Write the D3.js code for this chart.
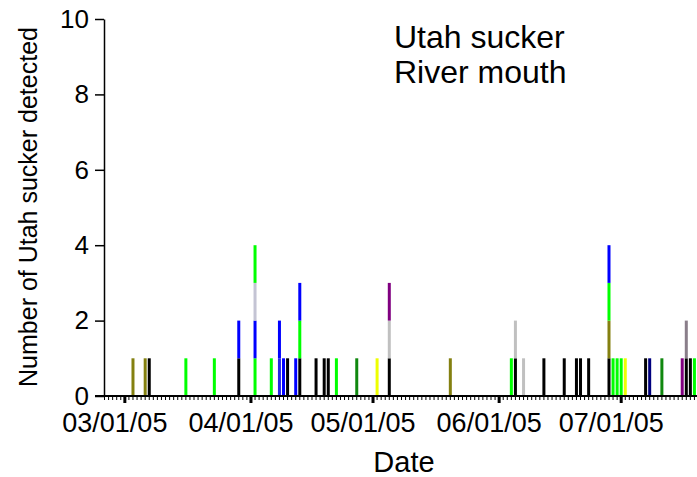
<!DOCTYPE html>
<html>
<head>
<meta charset="utf-8">
<script src="https://cdn.jsdelivr.net/npm/d3@7"></script>
<style>
  body { margin: 0; background: #fff; }
  svg { display: block; }
  text { font-family: "Liberation Sans", Arial, sans-serif; fill: #000; }
</style>
</head>
<body>
<svg id="chart" width="697" height="477"></svg>
<script>
// Detection days (one bar per day)
const detectionDates = [
  "2005-03-03","2005-03-06","2005-03-07","2005-03-16","2005-03-23","2005-03-29",
  "2005-04-02","2005-04-06","2005-04-08","2005-04-09","2005-04-10","2005-04-12",
  "2005-04-13","2005-04-17","2005-04-19","2005-04-20","2005-04-22","2005-04-27",
  "2005-05-02","2005-05-05","2005-05-20","2005-06-04","2005-06-05","2005-06-07",
  "2005-06-12","2005-06-17","2005-06-20","2005-06-21","2005-06-23","2005-06-28",
  "2005-06-29","2005-06-30","2005-07-01","2005-07-02","2005-07-07","2005-07-08",
  "2005-07-11","2005-07-16","2005-07-17","2005-07-18","2005-07-19"
];
// Tagged fish detected on each day, stacked bottom to top (one fish = 1)
const detectionStacks = [
  ["olive"],["olive"],["black"],["lime"],["lime"],["black","blue"],
  ["lime","blue","lavender","lime"],["lime"],["slateBlue","blue"],["blue"],["black"],["blue"],
  ["black","lime","blue"],["black"],["black"],["black"],["lime"],["green"],
  ["yellow"],["black","silver","purple"],["olive"],["lime"],["black","silver"],["silver"],
  ["black"],["black"],["black"],["black"],["black"],["black","olive","lime","blue"],
  ["lime"],["lime"],["lime"],["yellow"],["black"],["navy"],
  ["green"],["purple"],["black","mauve"],["black"],["lime"]
];
const tagColors = {
  olive: "#848010", black: "#000000", lime: "#00ff00", blue: "#0000ff",
  slateBlue: "#2626e6", lavender: "#c4c4d4", green: "#10880f", yellow: "#eeff00",
  silver: "#c0c0c0", purple: "#800080", navy: "#00007f", mauve: "#8a7e8a"
};
const yTickValues = [0, 2, 4, 6, 8, 10];
const monthTickLabels = ["03/01/05", "04/01/05", "05/01/05", "06/01/05", "07/01/05"];

const parseDay = d3.timeParse("%Y-%m-%d");
const parseTick = d3.timeParse("%m/%d/%y");
const svg = d3.select("#chart");

const x = d3.scaleTime()
  .domain([parseDay("2005-02-24"), parseDay("2005-07-20")])
  .range([104, 698]);
const y = d3.scaleLinear().domain([0, 10]).range([396, 19]);

// Stacked segments
const segments = [];
detectionDates.forEach((ds, i) => {
  const date = parseDay(ds);
  detectionStacks[i].forEach((key, j) => {
    segments.push({ date, key, y0: j, y1: j + 1 });
  });
});

svg.append("g").selectAll("rect")
  .data(segments)
  .join("rect")
  .attr("x", d => x(d.date) - 1)
  .attr("width", 3)
  .attr("y", d => y(d.y1))
  .attr("height", d => y(d.y0) - y(d.y1))
  .attr("fill", d => tagColors[d.key]);

// Daily minor ticks
const minorAxis = svg.append("g")
  .attr("transform", "translate(0,396)")
  .call(d3.axisBottom(x).ticks(d3.timeDay.every(1)).tickSize(4).tickFormat(""));
minorAxis.select(".domain").remove();
minorAxis.selectAll(".tick line").attr("stroke", "#000").attr("stroke-width", 1);

// Month ticks with labels
const majorAxis = svg.append("g")
  .attr("transform", "translate(0,396)")
  .call(d3.axisBottom(x)
    .tickValues(monthTickLabels.map(parseTick))
    .tickSize(7)
    .tickPadding(10)
    .tickFormat(d3.timeFormat("%m/%d/%y")));
majorAxis.select(".domain").remove();
majorAxis.selectAll(".tick line").attr("stroke", "#000").attr("stroke-width", 3);
majorAxis.selectAll(".tick text")
  .attr("font-size", 27)
  .attr("dx", -10)
  .attr("font-family", "Liberation Sans, Arial, sans-serif");

// X axis line
svg.append("line")
  .attr("x1", 95).attr("x2", 697).attr("y1", 396).attr("y2", 396)
  .attr("stroke", "#000").attr("stroke-width", 2);

// Y axis
const yAxis = svg.append("g")
  .attr("transform", "translate(104,0)")
  .call(d3.axisLeft(y).tickValues(yTickValues).tickSize(9).tickPadding(6).tickSizeOuter(0));
yAxis.select(".domain").attr("stroke", "#000").attr("stroke-width", 1.5);
yAxis.selectAll(".tick line").attr("stroke", "#000").attr("stroke-width", 1.5);
yAxis.selectAll(".tick text").attr("font-size", 26).attr("font-family", "Liberation Sans, Arial, sans-serif");

// Axis titles
svg.append("text")
  .attr("x", 404).attr("y", 472)
  .attr("text-anchor", "middle")
  .attr("font-size", 29)
  .text("Date");
svg.append("text")
  .attr("transform", "translate(37,207) rotate(-90)")
  .attr("text-anchor", "middle")
  .attr("font-size", 25)
  .text("Number of Utah sucker detected");

// Panel label
svg.append("text").attr("x", 394).attr("y", 48).attr("font-size", 32).text("Utah sucker");
svg.append("text").attr("x", 394).attr("y", 83).attr("font-size", 32).text("River mouth");
</script>
</body>
</html>
